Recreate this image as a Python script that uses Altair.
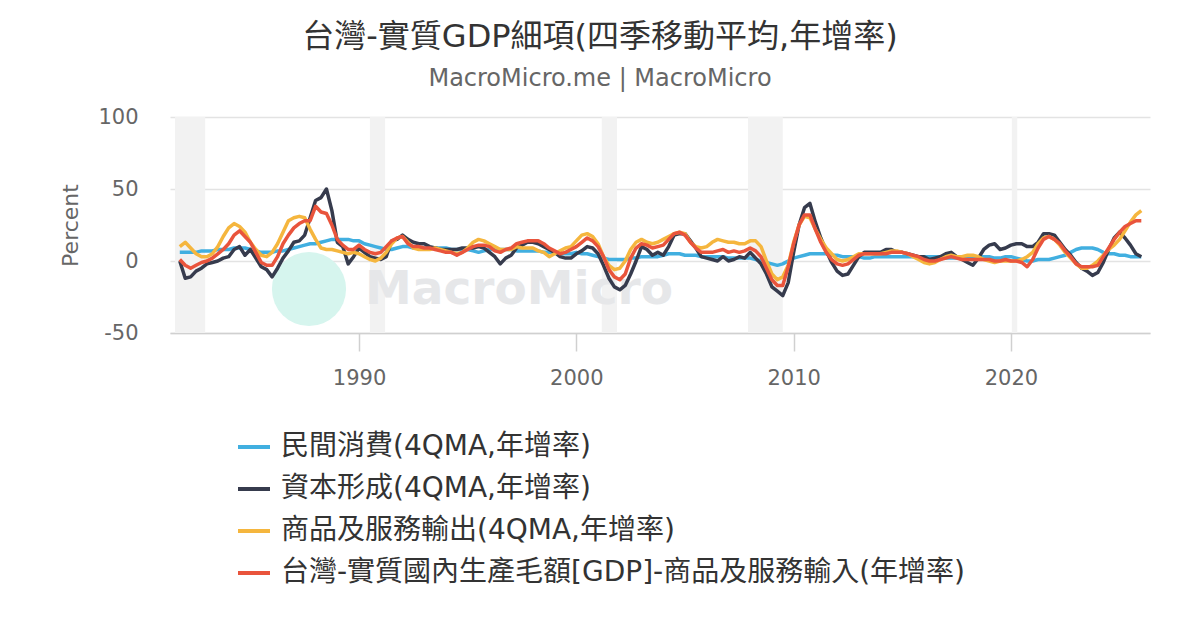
import altair as alt
import pandas as pd

FONT = "DejaVu Sans, Noto Sans CJK TC, sans-serif"

TITLE = "台灣-實質GDP細項(四季移動平均,年增率)"
SUBTITLE = "MacroMicro.me | MacroMicro"
Y_TITLE = "Percent"
WATERMARK = "MacroMicro"

series_names = [
    "民間消費(4QMA,年增率)",
    "資本形成(4QMA,年增率)",
    "商品及服務輸出(4QMA,年增率)",
    "台灣-實質國內生產毛額[GDP]-商品及服務輸入(年增率)",
]
series_colors = ["#41afe0", "#363b4d", "#f5b63e", "#e9543c"]

# quarterly observations, first one = 1981 Q3 (decimal year 1981.75)
first_quarter = 1981.75
quarter_step = 0.25

consumption = [
    6, 6, 6, 6, 7, 7, 7, 8, 8, 8, 9, 9, 9, 8, 7, 6, 6, 6, 7, 7, 8, 9, 10, 11, 12, 12, 13, 14, 15, 15, 15, 15,
    14, 14, 12, 11, 10, 9, 8, 8, 9, 10, 10, 9, 9, 9, 9, 9, 9, 9, 8, 8, 8, 8, 7, 6, 7, 8, 8, 8, 8, 8, 7,
    7, 7, 7, 7, 6, 6, 6, 5, 5, 5, 6, 5, 5, 4, 3, 2, 1, 1, 1, 1, 2, 2, 3, 3, 3, 3, 4, 5, 5, 5, 4,
    4, 4, 3, 3, 3, 3, 3, 2, 2, 2, 2, 2, 1, 0, -1, -2, -3, -2, 0, 2, 3, 4, 5, 5, 5, 5, 4, 4, 3, 3, 3, 3,
    2, 2, 3, 3, 3, 3, 3, 3, 3, 3, 3, 3, 3, 3, 3, 2, 2, 2, 2, 2, 2, 3, 3, 3, 2, 2,
    3, 3, 2, 1, 0, 0, 1, 1, 1, 2, 3, 4, 6, 8, 9, 9, 9, 8, 6, 5, 5, 4, 4, 3, 3, 3,
]
capital_formation = [
    0, -12, -11, -7, -5, -2, -1, 0, 2, 3, 8, 10, 4, 8, 2, -4, -6, -11, -5, 2, 7, 13, 14, 18, 30, 42, 44, 50, 35, 13, 10, -2,
    3, 9, 6, 3, 2, 1, 3, 14, 15, 18, 15, 13, 12, 12, 10, 9, 8, 8, 8, 8, 9, 9, 9, 10, 9, 6, 3, -2, 2, 4, 9,
    11, 13, 13, 12, 10, 8, 6, 3, 2, 2, 5, 7, 10, 9, 5, -3, -12, -18, -20, -17, -9, 0, 10, 8, 4, 6, 4, 10, 18, 19, 19,
    14, 9, 3, 2, 1, 0, 3, 0, 1, 3, 2, 6, 2, -2, -9, -18, -21, -24, -15, 6, 25, 37, 40, 27, 16, 7, -1, -7, -10, -9, -3, 3,
    6, 6, 6, 6, 8, 8, 6, 6, 5, 4, 3, 3, 1, 2, 3, 5, 6, 3, 1, -1, -3, 2, 8, 11, 12, 8,
    9, 11, 12, 12, 10, 10, 13, 19, 19, 18, 13, 8, 4, -1, -5, -7, -10, -8, -1, 8, 16, 20, 16, 11, 5, 3,
]
exports = [
    10, 13, 9, 5, 3, 3, 5, 10, 17, 23, 26, 24, 20, 13, 8, 4, 3, 6, 12, 20, 28, 30, 31, 30, 22, 15, 9, 8, 8, 7, 6, 5,
    6, 5, 3, 1, 0, 2, 6, 12, 16, 17, 13, 9, 8, 8, 8, 9, 8, 7, 6, 5, 6, 9, 13, 15, 14, 12, 10, 8, 8, 8, 10,
    9, 9, 9, 7, 6, 3, 5, 7, 9, 10, 14, 18, 19, 17, 12, 3, -3, -6, -5, 0, 8, 13, 15, 13, 12, 13, 15, 17, 19, 20, 19,
    13, 10, 9, 10, 13, 15, 14, 13, 13, 12, 12, 14, 14, 10, 0, -9, -13, -11, -3, 13, 25, 31, 30, 22, 15, 9, 5, 1, 0, 1, 3, 5,
    5, 5, 5, 5, 6, 7, 7, 6, 5, 3, 1, -1, -2, -1, 1, 3, 4, 3, 3, 4, 4, 3, 1, 0, -1, 0,
    0, 0, 0, 1, 3, 6, 12, 16, 17, 15, 11, 6, 2, -2, -5, -5, -3, 0, 4, 8, 11, 15, 21, 27, 32, 35,
]
gdp_less_imports = [
    1, -3, -5, -3, -1, 0, 2, 5, 8, 12, 18, 21, 17, 13, 6, -1, -3, -3, 3, 12, 18, 23, 26, 28, 28, 38, 34, 33, 25, 15, 11, 8,
    8, 11, 8, 6, 5, 6, 10, 14, 16, 17, 12, 10, 10, 9, 9, 8, 7, 6, 6, 4, 6, 8, 10, 11, 11, 10, 7, 6, 8, 9, 12,
    13, 14, 14, 14, 12, 9, 7, 5, 6, 8, 10, 13, 16, 14, 10, 3, -6, -11, -13, -9, 2, 9, 12, 11, 9, 10, 11, 15, 19, 20, 18,
    13, 9, 6, 6, 6, 7, 8, 6, 7, 6, 7, 9, 7, 3, -5, -13, -17, -17, -4, 12, 25, 32, 32, 22, 13, 6, 1, -2, -3, -2, 1, 4,
    5, 5, 5, 5, 5, 6, 6, 6, 5, 4, 3, 1, 0, 0, 1, 2, 3, 2, 1, 1, 1, 1, 1, 1, 0, 0,
    1, 0, 0, -1, -4, 1, 9, 15, 17, 15, 12, 7, 3, -2, -4, -4, -4, -3, 3, 9, 15, 20, 24, 26, 28, 28,
]

recession_start = [1981.53, 1990.5, 2001.17, 2007.9, 2020.04]
recession_end = [1982.92, 1991.2, 2001.87, 2009.5, 2020.29]

x_ticks = [1990, 2000, 2010, 2020]
y_ticks = [-50, 0, 50, 100]
x_domain = [1981.3, 2026.4]
y_domain = [-50, 100]

all_values = [consumption, capital_formation, exports, gdp_less_imports]
rows = []
for name, vals in zip(series_names, all_values):
    for i, v in enumerate(vals):
        rows.append({"t": first_quarter + quarter_step * i, "series": name, "value": v})
df = pd.DataFrame(rows)

W, H = 980, 216

xscale = alt.Scale(domain=x_domain, nice=False, zero=False)
yscale = alt.Scale(domain=y_domain, nice=False, zero=False)

xaxis = alt.Axis(
    values=x_ticks, format="d", grid=False, title=None,
    domainColor="#d0d0d0", domainWidth=1.5, tickColor="#d0d0d0", tickWidth=1.5, tickSize=18,
    labelFontSize=21, labelColor="#666666", labelPadding=16, labelFont=FONT,
)
yaxis = alt.Axis(
    values=y_ticks, title=Y_TITLE, grid=True, gridColor="#e3e3e3", gridWidth=1.5,
    labelExpr="replace(datum.label, '\u2212', '-')",
    domain=False, ticks=False, labelFontSize=21, labelColor="#666666", labelPadding=32, labelFont=FONT,
    titleFontSize=22, titleColor="#666666", titleFontWeight="normal", titleFont=FONT,
    titleX=-100, titleY=108, titleAngle=270, titleAlign="center", titleBaseline="middle",
)

legend = alt.Legend(
    orient="none", legendX=66, legendY=312, direction="vertical", title=None,
    symbolType="stroke", symbolStrokeWidth=4, symbolSize=1024,
    labelFontSize=28, labelColor="#333333", labelFont=FONT, labelLimit=1000,
    labelOffset=9, rowPadding=10, padding=0,
)

bands = alt.Chart(pd.DataFrame({"start": recession_start, "end": recession_end})).mark_rect(
    color="#f2f2f2"
).encode(
    x=alt.X("start:Q", scale=xscale, axis=xaxis),
    x2="end:Q",
    y=alt.value(0),
    y2=alt.value(H),
)

wm = pd.DataFrame({"label": [WATERMARK]})
wm_circle = alt.Chart(wm).mark_circle(color="#d6f5ee", opacity=1, size=5500).encode(
    x=alt.value(139), y=alt.value(172)
)
wm_text = alt.Chart(wm).mark_text(
    align="left", baseline="middle", fontSize=47, fontWeight="bold", color="#e6e7e9", font=FONT
).encode(x=alt.value(195), y=alt.value(173), text="label:N")

color_enc = alt.Color(
    "series:N", scale=alt.Scale(domain=series_names, range=series_colors), legend=legend
)

line_layers = []
for name in series_names:
    line_layers.append(
        alt.Chart(df)
        .transform_filter(alt.datum.series == name)
        .mark_line(strokeWidth=3.5, strokeJoin="round")
        .encode(
            x=alt.X("t:Q", scale=xscale, axis=xaxis),
            y=alt.Y("value:Q", scale=yscale, axis=yaxis),
            color=color_enc,
        )
    )

chart = (
    alt.layer(bands, wm_circle, wm_text, *line_layers)
    .properties(
        width=W,
        height=H,
        autosize=alt.AutoSizeParams(type="none"),
        padding={"left": 162, "top": 109, "right": 42, "bottom": 300},
        title=alt.TitleParams(
            text=TITLE, subtitle=SUBTITLE, anchor="middle", frame="group", dx=-60,
            fontSize=32, fontWeight="normal", color="#333333", font=FONT,
            subtitleFontSize=24, subtitleColor="#666666", subtitleFont=FONT,
            subtitlePadding=13, offset=14,
        ),
    )
    .configure_view(stroke=None)
)

chart.save("out.html", embed_options={"renderer": "svg", "actions": False})
